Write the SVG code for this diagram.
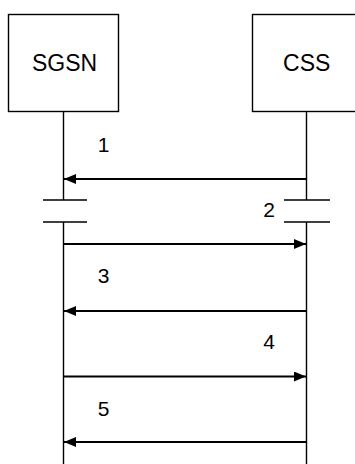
<svg xmlns="http://www.w3.org/2000/svg" width="355" height="464" viewBox="0 0 355 464">
<style>
.box{fill:#fff;stroke:#000;stroke-width:1.4}
.life{stroke:#000;stroke-width:1.4;fill:none}
.brk{stroke:#000;stroke-width:1.4}
.msg{stroke:#000;stroke-width:1.8;fill:none}
.name{font-family:"Liberation Sans",Arial,sans-serif;font-size:23px;text-anchor:middle;fill:#000}
.lbl{font-family:"Liberation Sans",Arial,sans-serif;font-size:21px;text-anchor:middle;fill:#000}
</style>
<defs>
<marker id="ah" viewBox="0 0 12 10" refX="12" refY="5" markerWidth="12" markerHeight="10" markerUnits="userSpaceOnUse" orient="auto">
<path d="M0,0 L12,5 L0,10 Z" fill="#000"/>
</marker>
</defs>
<rect width="355" height="464" fill="#fff"/>
<g id="node-sgsn">
<rect class="box" x="8.5" y="14.5" width="110" height="97"/>
<text class="name" x="64.5" y="70.5">SGSN</text>
<path class="life" d="M63.5,111.5 V200 M63.5,222 V464"/>
<path class="brk" d="M43,200 H87 M43,222 H87"/>
</g>
<g id="node-css">
<rect class="box" x="252.5" y="14.5" width="110" height="97"/>
<text class="name" x="306.7" y="70.5">CSS</text>
<path class="life" d="M306.5,111.5 V200 M306.5,222 V464"/>
<path class="brk" d="M284,200 H330 M284,222 H330"/>
</g>
<g id="connectors">
<path class="msg" d="M306.5,179 H64" marker-end="url(#ah)"/>
<path class="msg" d="M63.5,244 H306" marker-end="url(#ah)"/>
<path class="msg" d="M306.5,311 H64" marker-end="url(#ah)"/>
<path class="msg" d="M63.5,376.5 H306" marker-end="url(#ah)"/>
<path class="msg" d="M306.5,442 H64" marker-end="url(#ah)"/>
<text class="lbl" x="103.5" y="152">1</text>
<text class="lbl" x="269" y="217.3">2</text>
<text class="lbl" x="103.5" y="282.7">3</text>
<text class="lbl" x="269" y="349">4</text>
<text class="lbl" x="103.5" y="416">5</text>
</g>
</svg>
